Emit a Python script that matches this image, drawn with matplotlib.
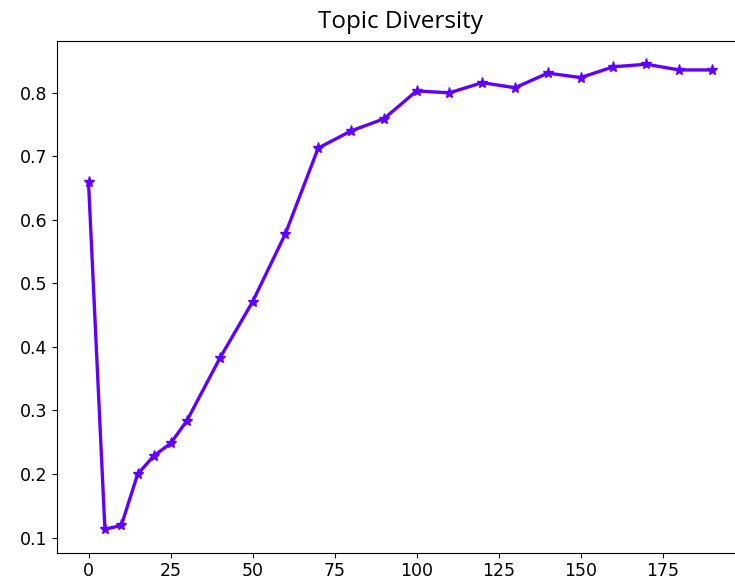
import matplotlib
matplotlib.use('Agg')
import matplotlib.pyplot as plt

plt.rcParams['font.family'] = ['Open Sans', 'DejaVu Sans']

num_topics = [0, 5, 10, 15, 20, 25, 30, 40, 50, 60, 70, 80, 90,
              100, 110, 120, 130, 140, 150, 160, 170, 180, 190]
diversity = [0.660, 0.113, 0.119, 0.200, 0.229, 0.248, 0.284, 0.382, 0.471, 0.578,
             0.713, 0.740, 0.759, 0.803, 0.800, 0.816, 0.808, 0.831, 0.824,
             0.841, 0.845, 0.836, 0.836]

fig = plt.figure(figsize=(7.35, 5.83), dpi=100)
# axes run a little past the right edge of the canvas
ax = fig.add_axes([0.078, 0.0523, 0.933, 0.8774])
ax.plot(num_topics, diversity, color='#6000ff', marker='*', markersize=8, linewidth=2.4)
ax.set_title('Topic Diversity', fontsize=17.5, pad=9)
ax.set_xticks([0, 25, 50, 75, 100, 125, 150, 175])
ax.set_yticks([0.1, 0.2, 0.3, 0.4, 0.5, 0.6, 0.7, 0.8])
for lab in ax.get_xticklabels() + ax.get_yticklabels():
    lab.set_family('DejaVu Sans')
ax.tick_params(labelsize=12.5)

fig.savefig('out.png', dpi=100)
